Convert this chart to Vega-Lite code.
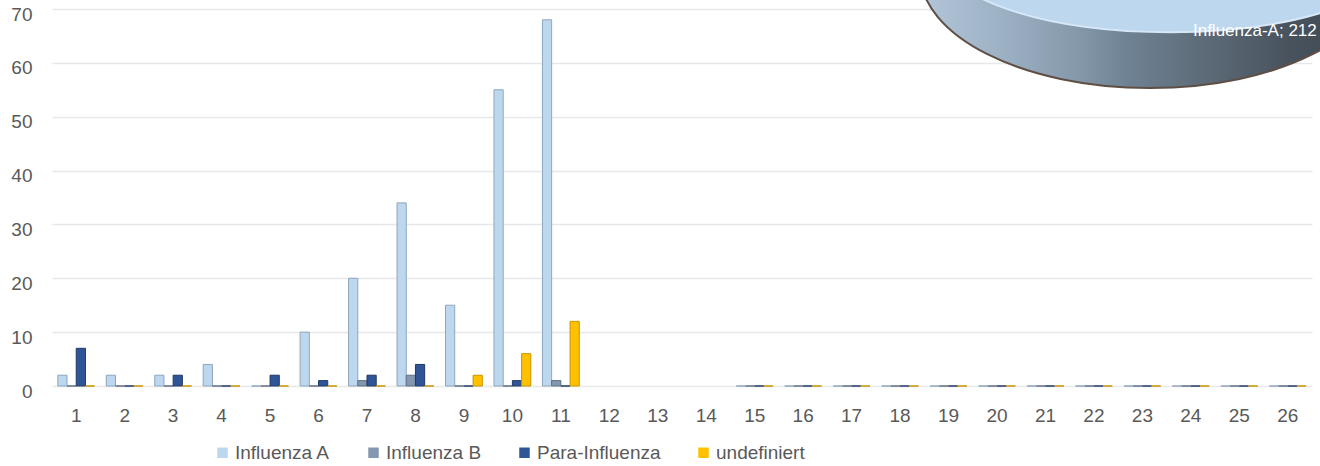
{
  "$schema": "https://vega.github.io/schema/vega-lite/v6.json",
  "width": 1260,
  "height": 377,
  "autosize": "none",
  "padding": {"left": 52, "top": 9, "right": 8, "bottom": 80},
  "background": "white",
  "config": {
    "view": {"stroke": null},
    "font": "Liberation Sans",
    "axis": {"labelFont": "Liberation Sans", "labelFontSize": 19, "labelColor": "#595959", "titleFontSize": 0}
  },
  "datasets": {
    "counts": [
      {"week": "1", "series": "Influenza A", "value": 2},
      {"week": "1", "series": "Influenza B", "value": 0},
      {"week": "1", "series": "Para-Influenza", "value": 7},
      {"week": "1", "series": "undefiniert", "value": 0},
      {"week": "2", "series": "Influenza A", "value": 2},
      {"week": "2", "series": "Influenza B", "value": 0},
      {"week": "2", "series": "Para-Influenza", "value": 0},
      {"week": "2", "series": "undefiniert", "value": 0},
      {"week": "3", "series": "Influenza A", "value": 2},
      {"week": "3", "series": "Influenza B", "value": 0},
      {"week": "3", "series": "Para-Influenza", "value": 2},
      {"week": "3", "series": "undefiniert", "value": 0},
      {"week": "4", "series": "Influenza A", "value": 4},
      {"week": "4", "series": "Influenza B", "value": 0},
      {"week": "4", "series": "Para-Influenza", "value": 0},
      {"week": "4", "series": "undefiniert", "value": 0},
      {"week": "5", "series": "Influenza A", "value": 0},
      {"week": "5", "series": "Influenza B", "value": 0},
      {"week": "5", "series": "Para-Influenza", "value": 2},
      {"week": "5", "series": "undefiniert", "value": 0},
      {"week": "6", "series": "Influenza A", "value": 10},
      {"week": "6", "series": "Influenza B", "value": 0},
      {"week": "6", "series": "Para-Influenza", "value": 1},
      {"week": "6", "series": "undefiniert", "value": 0},
      {"week": "7", "series": "Influenza A", "value": 20},
      {"week": "7", "series": "Influenza B", "value": 1},
      {"week": "7", "series": "Para-Influenza", "value": 2},
      {"week": "7", "series": "undefiniert", "value": 0},
      {"week": "8", "series": "Influenza A", "value": 34},
      {"week": "8", "series": "Influenza B", "value": 2},
      {"week": "8", "series": "Para-Influenza", "value": 4},
      {"week": "8", "series": "undefiniert", "value": 0},
      {"week": "9", "series": "Influenza A", "value": 15},
      {"week": "9", "series": "Influenza B", "value": 0},
      {"week": "9", "series": "Para-Influenza", "value": 0},
      {"week": "9", "series": "undefiniert", "value": 2},
      {"week": "10", "series": "Influenza A", "value": 55},
      {"week": "10", "series": "Influenza B", "value": 0},
      {"week": "10", "series": "Para-Influenza", "value": 1},
      {"week": "10", "series": "undefiniert", "value": 6},
      {"week": "11", "series": "Influenza A", "value": 68},
      {"week": "11", "series": "Influenza B", "value": 1},
      {"week": "11", "series": "Para-Influenza", "value": 0},
      {"week": "11", "series": "undefiniert", "value": 12},
      {"week": "15", "series": "Influenza A", "value": 0},
      {"week": "15", "series": "Influenza B", "value": 0},
      {"week": "15", "series": "Para-Influenza", "value": 0},
      {"week": "15", "series": "undefiniert", "value": 0},
      {"week": "16", "series": "Influenza A", "value": 0},
      {"week": "16", "series": "Influenza B", "value": 0},
      {"week": "16", "series": "Para-Influenza", "value": 0},
      {"week": "16", "series": "undefiniert", "value": 0},
      {"week": "17", "series": "Influenza A", "value": 0},
      {"week": "17", "series": "Influenza B", "value": 0},
      {"week": "17", "series": "Para-Influenza", "value": 0},
      {"week": "17", "series": "undefiniert", "value": 0},
      {"week": "18", "series": "Influenza A", "value": 0},
      {"week": "18", "series": "Influenza B", "value": 0},
      {"week": "18", "series": "Para-Influenza", "value": 0},
      {"week": "18", "series": "undefiniert", "value": 0},
      {"week": "19", "series": "Influenza A", "value": 0},
      {"week": "19", "series": "Influenza B", "value": 0},
      {"week": "19", "series": "Para-Influenza", "value": 0},
      {"week": "19", "series": "undefiniert", "value": 0},
      {"week": "20", "series": "Influenza A", "value": 0},
      {"week": "20", "series": "Influenza B", "value": 0},
      {"week": "20", "series": "Para-Influenza", "value": 0},
      {"week": "20", "series": "undefiniert", "value": 0},
      {"week": "21", "series": "Influenza A", "value": 0},
      {"week": "21", "series": "Influenza B", "value": 0},
      {"week": "21", "series": "Para-Influenza", "value": 0},
      {"week": "21", "series": "undefiniert", "value": 0},
      {"week": "22", "series": "Influenza A", "value": 0},
      {"week": "22", "series": "Influenza B", "value": 0},
      {"week": "22", "series": "Para-Influenza", "value": 0},
      {"week": "22", "series": "undefiniert", "value": 0},
      {"week": "23", "series": "Influenza A", "value": 0},
      {"week": "23", "series": "Influenza B", "value": 0},
      {"week": "23", "series": "Para-Influenza", "value": 0},
      {"week": "23", "series": "undefiniert", "value": 0},
      {"week": "24", "series": "Influenza A", "value": 0},
      {"week": "24", "series": "Influenza B", "value": 0},
      {"week": "24", "series": "Para-Influenza", "value": 0},
      {"week": "24", "series": "undefiniert", "value": 0},
      {"week": "25", "series": "Influenza A", "value": 0},
      {"week": "25", "series": "Influenza B", "value": 0},
      {"week": "25", "series": "Para-Influenza", "value": 0},
      {"week": "25", "series": "undefiniert", "value": 0},
      {"week": "26", "series": "Influenza A", "value": 0},
      {"week": "26", "series": "Influenza B", "value": 0},
      {"week": "26", "series": "Para-Influenza", "value": 0},
      {"week": "26", "series": "undefiniert", "value": 0}
    ],
    "pie": [
      {"label": "Influenza-A; 212", "week": "23", "level": 80, "labelWeek": "26", "labelLevel": 65.9}
    ]
  },
  "layer": [
    {
      "data": {"name": "counts"},
      "mark": {"type": "bar", "strokeWidth": 1},
      "encoding": {
        "x": {
          "field": "week", "type": "nominal", "sort": null,
          "scale": {"domain": ["1","2","3","4","5","6","7","8","9","10","11","12","13","14","15","16","17","18","19","20","21","22","23","24","25","26"], "paddingInner": 0.24, "paddingOuter": 0.12},
          "axis": {"title": null, "labelAngle": 0, "domain": false, "ticks": false, "labelPadding": 20, "grid": false}
        },
        "xOffset": {
          "field": "series", "type": "nominal",
          "scale": {"domain": ["Influenza A", "Influenza B", "Para-Influenza", "undefiniert"], "paddingInner": 0, "paddingOuter": 0}
        },
        "y": {
          "field": "value", "type": "quantitative",
          "scale": {"domain": [0, 70], "nice": false},
          "axis": {"title": null, "values": [0,10,20,30,40,50,60,70], "domain": false, "ticks": false, "labelPadding": 20, "labelOffset": 5, "grid": true, "gridColor": "#e8e8e8", "gridWidth": 1.5}
        },
        "fill": {
          "field": "series", "type": "nominal",
          "scale": {"domain": ["Influenza A", "Influenza B", "Para-Influenza", "undefiniert"], "range": ["#bdd7ee", "#8497b0", "#2f5597", "#ffc000"]},
          "legend": {
            "title": null, "orient": "none", "direction": "horizontal", "columns": 4,
            "legendX": 161, "legendY": 434, "symbolType": "square", "symbolSize": 110,
            "symbolStrokeWidth": 0, "labelFont": "Liberation Sans", "labelFontSize": 19, "labelColor": "#595959",
            "labelOffset": 3, "columnPadding": 33, "padding": 0
          }
        },
        "stroke": {
          "field": "series", "type": "nominal",
          "scale": {"domain": ["Influenza A", "Influenza B", "Para-Influenza", "undefiniert"], "range": ["#8ea6bd", "#5f6f85", "#1f3864", "#c79500"]},
          "legend": null
        }
      }
    },
    {
      "data": {"name": "pie"},
      "mark": {
        "type": "point", "filled": true, "opacity": 1, "size": 211600,
        "shape": "M -0.967 0.074 C -0.967 -0.2044 -0.5193 -0.43 0.033 -0.43 C 0.5853 -0.43 1.033 -0.2044 1.033 0.074 C 1.033 0.3524 0.5853 0.578 0.033 0.578 C -0.5193 0.578 -0.967 0.3524 -0.967 0.074 Z",
        "fill": {"gradient": "linear", "x1": 0, "y1": 0, "x2": 1, "y2": 0, "stops": [
          {"offset": 0, "color": "#b3c6d9"},
          {"offset": 0.17, "color": "#9eb2c6"},
          {"offset": 0.35, "color": "#8497a9"},
          {"offset": 0.45, "color": "#6f8294"},
          {"offset": 0.61, "color": "#5e6c79"},
          {"offset": 0.8, "color": "#48535e"},
          {"offset": 1, "color": "#3c454e"}
        ]},
        "stroke": "#5e4e44", "strokeWidth": 2
      },
      "encoding": {
        "x": {"field": "week", "type": "nominal"},
        "y": {"field": "level", "type": "quantitative"}
      }
    },
    {
      "data": {"name": "pie"},
      "mark": {
        "type": "point", "filled": true, "opacity": 1, "size": 207936,
        "shape": "M -0.879 0 C -0.879 -0.1865 -0.4313 -0.3377 0.121 -0.3377 C 0.6733 -0.3377 1.121 -0.1865 1.121 0 C 1.121 0.1865 0.6733 0.3377 0.121 0.3377 C -0.4313 0.3377 -0.879 0.1865 -0.879 0 Z",
        "fill": "#bdd7ee", "stroke": "#d6e7f7", "strokeWidth": 2
      },
      "encoding": {
        "x": {"field": "week", "type": "nominal"},
        "y": {"field": "level", "type": "quantitative"}
      }
    },
    {
      "data": {"name": "pie"},
      "mark": {"type": "text", "align": "right", "baseline": "middle", "dx": 29, "font": "Liberation Sans", "fontSize": 17, "color": "white"},
      "encoding": {
        "x": {"field": "labelWeek", "type": "nominal"},
        "y": {"field": "labelLevel", "type": "quantitative"},
        "text": {"field": "label", "type": "nominal"}
      }
    }
  ]
}
